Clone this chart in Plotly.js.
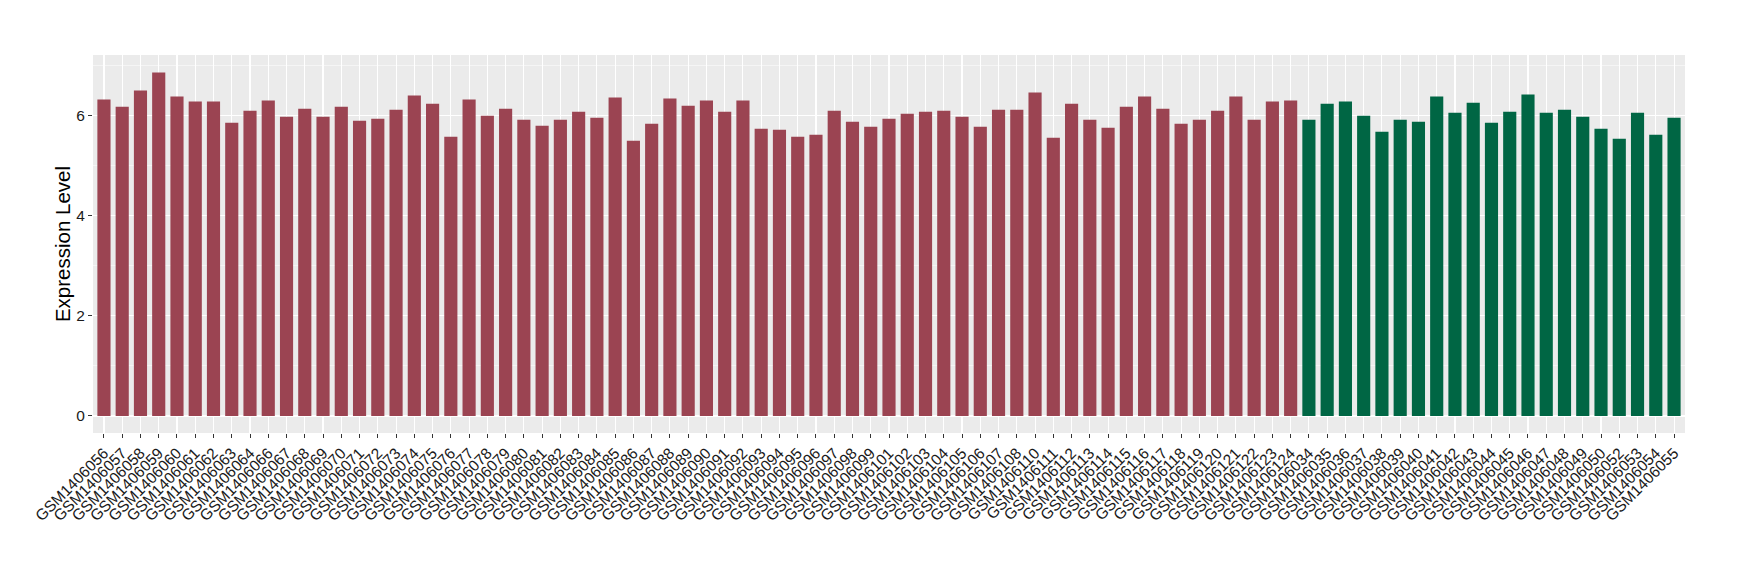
<!DOCTYPE html>
<html>
<head>
<meta charset="utf-8">
<script src="https://cdn.plot.ly/plotly-3.0.1.min.js"></script>
<style>html,body{margin:0;padding:0;background:#fff;}#chart{width:1740px;height:580px;}</style>
</head>
<body>
<div id="chart"></div>
<script>
const caseSamples = ["GSM1406056","GSM1406057","GSM1406058","GSM1406059","GSM1406060","GSM1406061","GSM1406062","GSM1406063","GSM1406064","GSM1406066","GSM1406067","GSM1406068","GSM1406069","GSM1406070","GSM1406071","GSM1406072","GSM1406073","GSM1406074","GSM1406075","GSM1406076","GSM1406077","GSM1406078","GSM1406079","GSM1406080","GSM1406081","GSM1406082","GSM1406083","GSM1406084","GSM1406085","GSM1406086","GSM1406087","GSM1406088","GSM1406089","GSM1406090","GSM1406091","GSM1406092","GSM1406093","GSM1406094","GSM1406095","GSM1406096","GSM1406097","GSM1406098","GSM1406099","GSM1406101","GSM1406102","GSM1406103","GSM1406104","GSM1406105","GSM1406106","GSM1406107","GSM1406108","GSM1406110","GSM1406111","GSM1406112","GSM1406113","GSM1406114","GSM1406115","GSM1406116","GSM1406117","GSM1406118","GSM1406119","GSM1406120","GSM1406121","GSM1406122","GSM1406123","GSM1406124"];
const caseValues = [6.31,6.17,6.49,6.85,6.37,6.27,6.27,5.85,6.09,6.29,5.97,6.13,5.97,6.17,5.89,5.93,6.11,6.39,6.23,5.57,6.31,5.99,6.13,5.91,5.79,5.91,6.07,5.95,6.35,5.49,5.83,6.33,6.19,6.29,6.07,6.29,5.73,5.71,5.57,5.61,6.09,5.87,5.77,5.93,6.03,6.07,6.09,5.97,5.77,6.11,6.11,6.45,5.55,6.23,5.91,5.75,6.17,6.37,6.13,5.83,5.91,6.09,6.37,5.91,6.27,6.29];
const controlSamples = ["GSM1406034","GSM1406035","GSM1406036","GSM1406037","GSM1406038","GSM1406039","GSM1406040","GSM1406041","GSM1406042","GSM1406043","GSM1406044","GSM1406045","GSM1406046","GSM1406047","GSM1406048","GSM1406049","GSM1406050","GSM1406052","GSM1406053","GSM1406054","GSM1406055"];
const controlValues = [5.91,6.23,6.27,5.99,5.67,5.91,5.87,6.37,6.05,6.25,5.85,6.07,6.41,6.05,6.11,5.97,5.73,5.53,6.05,5.61,5.95];
const yTicks = [0,2,4,6];

const allSamples = caseSamples.concat(controlSamples);

const traces = [
  {type:'bar', x:caseSamples, y:caseValues, marker:{color:'#9B4452'}, hoverinfo:'x+y'},
  {type:'bar', x:controlSamples, y:controlValues, marker:{color:'#006644'}, hoverinfo:'x+y'}
];

const layout = {
  width:1740, height:580,
  margin:{l:93, r:55, t:55, b:147},
  paper_bgcolor:'#ffffff',
  plot_bgcolor:'#EBEBEB',
  showlegend:false,
  barmode:'overlay',
  bargap:0.28,
  font:{family:'"Liberation Sans", Arial, sans-serif', color:'#1a1a1a'},
  xaxis:{
    type:'category',
    categoryorder:'array',
    categoryarray: allSamples,
    tickmode:'array',
    tickvals: allSamples,
    ticktext: allSamples,
    range:[-0.6, allSamples.length - 0.4],
    showgrid:true, gridcolor:'#ffffff', gridwidth:1.1,
    zeroline:false, showline:false,
    ticks:'outside', ticklen:4, tickwidth:1, tickcolor:'#333333',
    tickangle:-45,
    tickfont:{size:15.5, color:'#1a1a1a'},
    automargin:false
  },
  yaxis:{
    range:[-0.34, 7.2],
    tickmode:'array',
    tickvals: yTicks,
    ticktext: yTicks.map(String),
    showgrid:true, gridcolor:'#ffffff', gridwidth:1.1,
    minor:{dtick:1, tick0:0, showgrid:true, gridcolor:'#ffffff', gridwidth:0.5, ticks:''},
    zeroline:false, showline:false,
    ticks:'outside', ticklen:4, tickwidth:1, tickcolor:'#333333',
    tickfont:{size:15.5, color:'#1a1a1a'},
    title:{text:'Expression Level', font:{size:20.5, color:'#000000'}, standoff:0},
    automargin:false
  }
};

Plotly.newPlot('chart', traces, layout, {displayModeBar:false, staticPlot:true});
</script>
</body>
</html>
